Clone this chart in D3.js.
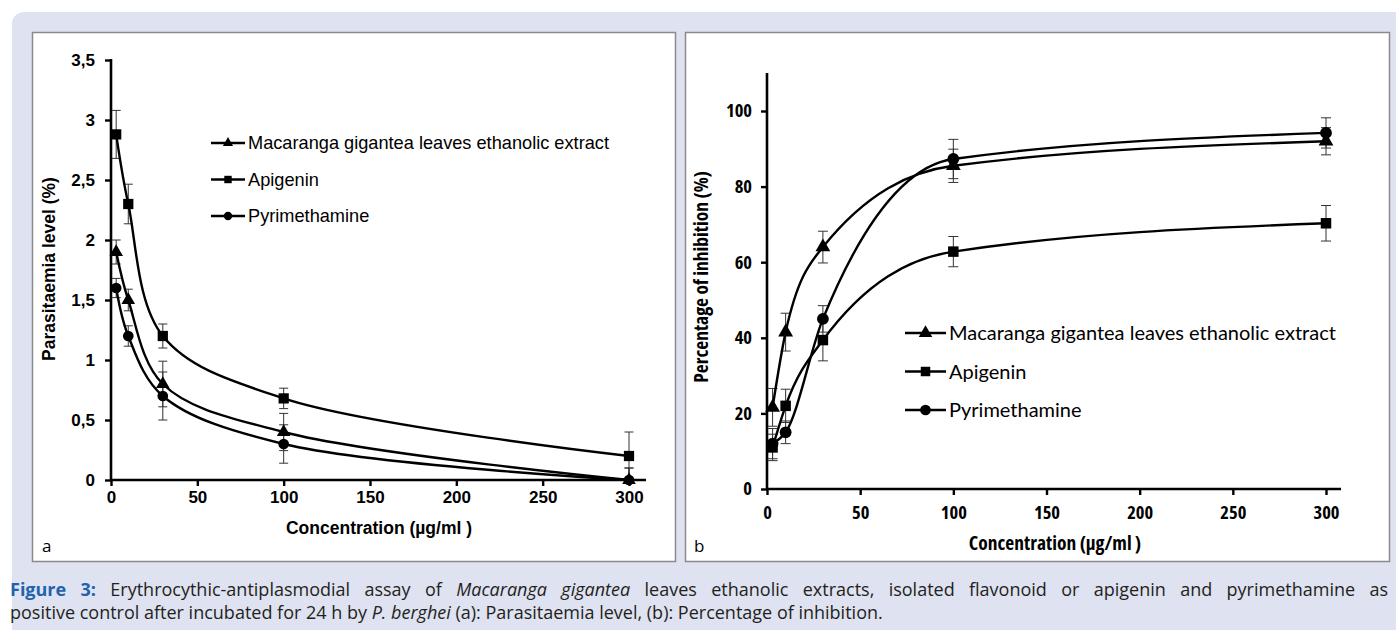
<!DOCTYPE html>
<html>
<head>
<meta charset="utf-8">
<script src="https://cdn.jsdelivr.net/npm/d3@7/dist/d3.min.js"></script>
<style>
  html, body { margin: 0; padding: 0; background: #ffffff; }
  svg { display: block; }
</style>
</head>
<body>
<svg id="fig" width="1396" height="630"></svg>
<script>
// Concentrations tested (µg/ml)
const concentrations = [3, 10, 30, 100, 300];
const seriesNames = ["Macaranga gigantea leaves ethanolic extract", "Apigenin", "Pyrimethamine"];
const seriesSymbols = ["triangle", "square", "circle"];

// (a) Parasitaemia level (%)
const parasMacaranga = [1.9, 1.5, 0.8, 0.4, 0.0];
const parasApigenin = [2.88, 2.3, 1.2, 0.68, 0.2];
const parasPyrimethamine = [1.6, 1.2, 0.7, 0.3, 0.0];
const parasErrMacaranga = [0.1, 0.09, 0.19, 0.155, 0.1];
const parasErrApigenin = [0.2, 0.165, 0.1, 0.085, 0.2];
const parasErrPyrimethamine = [0.08, 0.085, 0.2, 0.16, 0.1];

// (b) Percentage of inhibition (%)
const inhibMacaranga = [21.6, 41.5, 64, 85.5, 92];
const inhibApigenin = [11, 22, 39.4, 62.8, 70.3];
const inhibPyrimethamine = [12, 15, 45, 87.3, 94.2];
const inhibErrMacaranga = [5, 5, 4.2, 4.4, 3.6];
const inhibErrApigenin = [3.5, 4.4, 5.5, 4, 4.7];
const inhibErrPyrimethamine = [4, 3, 3.5, 5.2, 4];

// Axis ticks
const xTicks = [0, 50, 100, 150, 200, 250, 300];
const yTicksA = [0, 0.5, 1, 1.5, 2, 2.5, 3, 3.5];
const yTicksB = [0, 20, 40, 60, 80, 100];

const captionLine1 = [
  {t: "Figure 3:", b: true},
  {t: " Erythrocythic-antiplasmodial assay of "},
  {t: "Macaranga gigantea", i: true},
  {t: " leaves ethanolic extracts, isolated flavonoid or apigenin and pyrimethamine as"}
];
const captionLine2 = [
  {t: "positive control after incubated for 24 h by "},
  {t: "P. berghei", i: true},
  {t: " (a): Parasitaemia level, (b): Percentage of inhibition."}
];

const svg = d3.select("#fig");

// page background
svg.append("rect").attr("x", 0).attr("y", 0).attr("width", 1396).attr("height", 630).attr("fill", "#ffffff");
svg.append("rect").attr("x", 12).attr("y", 12).attr("width", 1400).attr("height", 640)
  .attr("rx", 12).attr("fill", "#dfe2f0");

// panel frames
function frame(x, y, w, h) {
  svg.append("rect").attr("x", x).attr("y", y).attr("width", w).attr("height", h)
    .attr("fill", "#ffffff").attr("stroke", "#8a8a8a").attr("stroke-width", 1.5);
}
frame(32.5, 32.5, 643, 529);
frame(685.5, 32.5, 704, 529);

const symbolType = {triangle: d3.symbolTriangle, square: d3.symbolSquare, circle: d3.symbolCircle};

function styleText(sel, font) {
  sel.style("font-family", font.family).style("font-weight", font.weight || "normal")
    .style("font-stretch", font.stretch || "normal").style("font-size", font.size + "px");
}

function drawPanel(cfg) {
  const g = svg.append("g");
  const x = d3.scaleLinear().domain([0, 300]).range(cfg.xRange);
  const y = d3.scaleLinear().domain(cfg.yDomain).range(cfg.yRange);

  // y axis
  const yAxis = g.append("g").attr("transform", `translate(${cfg.xRange[0]},0)`)
    .call(d3.axisLeft(y).tickValues(cfg.yTicks).tickFormat(cfg.yFormat).tickSize(6).tickSizeOuter(0));
  yAxis.select(".domain").remove();
  yAxis.append("line").attr("x1", 0).attr("x2", 0)
    .attr("y1", y(0) + 1).attr("y2", cfg.yTop).attr("stroke", "#000").attr("stroke-width", 2.6);
  // x axis
  const xAxis = g.append("g").attr("transform", `translate(0,${cfg.yRange[0]})`)
    .call(d3.axisBottom(x).tickValues(xTicks).tickSize(6).tickSizeOuter(0));
  xAxis.select(".domain").remove();
  xAxis.append("line").attr("x1", cfg.xRange[0] - 1).attr("x2", cfg.xRight)
    .attr("y1", 0).attr("y2", 0).attr("stroke", "#000").attr("stroke-width", 2.6);

  [yAxis, xAxis].forEach(a => {
    a.selectAll(".tick line").attr("stroke", "#000").attr("stroke-width", 2.4);
    styleText(a.selectAll(".tick text").attr("fill", "#000"), cfg.tickFont);
  });
  yAxis.selectAll(".tick text").attr("x", cfg.yLabelDx);
  xAxis.selectAll(".tick text").attr("y", cfg.xLabelDy);

  // axis titles
  styleText(g.append("text")
    .attr("transform", `translate(${cfg.yTitlePos[0]},${cfg.yTitlePos[1]}) rotate(-90)`)
    .attr("text-anchor", "middle").text(cfg.yTitle), cfg.titleFont);
  styleText(g.append("text")
    .attr("x", cfg.xTitlePos[0]).attr("y", cfg.xTitlePos[1])
    .attr("text-anchor", "middle").text(cfg.xTitle), cfg.titleFont);

  // error bars
  const eg = g.append("g").attr("stroke", "#333").attr("stroke-width", 1);
  cfg.series.forEach(s => {
    concentrations.forEach((c, i) => {
      const cx = x(c);
      const lo = y(Math.max(cfg.yDomain[0], s.values[i] - s.errors[i]));
      const hi = y(s.values[i] + s.errors[i]);
      eg.append("line").attr("x1", cx).attr("x2", cx).attr("y1", lo).attr("y2", hi);
      eg.append("line").attr("x1", cx - cfg.cap).attr("x2", cx + cfg.cap).attr("y1", hi).attr("y2", hi);
      if (s.values[i] - s.errors[i] > cfg.yDomain[0])
        eg.append("line").attr("x1", cx - cfg.cap).attr("x2", cx + cfg.cap).attr("y1", lo).attr("y2", lo);
    });
  });

  // smoothed lines
  const line = d3.line().x(d => x(d[0])).y(d => y(d[1])).curve(cfg.curve);
  cfg.series.forEach(s => {
    g.append("path").datum(concentrations.map((c, i) => [c, s.values[i]]))
      .attr("d", line).attr("fill", "none").attr("stroke", "#000").attr("stroke-width", 2.4);
  });

  // markers
  cfg.series.forEach((s, k) => {
    const sym = d3.symbol().type(symbolType[seriesSymbols[k]]).size(cfg.markerSize[k]);
    concentrations.forEach((c, i) => {
      g.append("path").attr("d", sym())
        .attr("transform", `translate(${x(c)},${y(s.values[i])})`).attr("fill", "#000");
    });
  });

  // legend
  const lg = g.append("g");
  seriesNames.forEach((name, k) => {
    const ly = cfg.legend.y0 + k * cfg.legend.dy;
    lg.append("line").attr("x1", cfg.legend.x0).attr("x2", cfg.legend.x1)
      .attr("y1", ly).attr("y2", ly).attr("stroke", "#000").attr("stroke-width", 2.4);
    const sym = d3.symbol().type(symbolType[seriesSymbols[k]]).size(cfg.legend.markerSize[k]);
    lg.append("path").attr("d", sym())
      .attr("transform", `translate(${(cfg.legend.x0 + cfg.legend.x1) / 2},${ly})`).attr("fill", "#000");
    styleText(lg.append("text").attr("x", cfg.legend.x1 + 3).attr("y", ly).attr("dy", "0.35em")
      .attr("fill", "#000").text(name), cfg.legend.font);
  });

  // panel letter
  g.append("text").attr("x", cfg.letterPos[0]).attr("y", cfg.letterPos[1])
    .style("font-family", "'Open Sans', sans-serif").style("font-size", "17px").text(cfg.letter);
}

const arialBold = {family: "'Liberation Sans', Arial, sans-serif", weight: "bold"};
const narrowBold = {family: "'Open Sans', sans-serif", weight: "bold", stretch: "condensed"};

drawPanel({
  xRange: [111, 629], xRight: 646,
  yDomain: [0, 3.5], yRange: [480, 60], yTop: 59,
  yTicks: yTicksA, yFormat: d => String(d).replace(".", ","),
  tickFont: {...arialBold, size: 17}, xLabelDy: 11, yLabelDx: -16,
  titleFont: {...arialBold, size: 17.5},
  yTitle: "Parasitaemia level (%)", yTitlePos: [55, 269],
  xTitle: "Concentration (µg/ml )", xTitlePos: [379, 534],
  curve: d3.curveCatmullRom.alpha(0.5),
  cap: 4.5,
  markerSize: [80, 105, 90],
  series: [
    {values: parasMacaranga, errors: parasErrMacaranga},
    {values: parasApigenin, errors: parasErrApigenin},
    {values: parasPyrimethamine, errors: parasErrPyrimethamine}
  ],
  legend: {x0: 211, x1: 245, y0: 143, dy: 36.5,
           font: {family: "'Liberation Sans', Arial, sans-serif", size: 18.2},
           markerSize: [45, 55, 55]},
  letter: "a", letterPos: [42, 552]
});

drawPanel({
  xRange: [767, 1326], xRight: 1341,
  yDomain: [0, 110], yRange: [489, 73.2], yTop: 73,
  yTicks: yTicksB, yFormat: d => String(d),
  tickFont: {...narrowBold, size: 18.5}, xLabelDy: 17, yLabelDx: -15,
  titleFont: {...narrowBold, size: 19.5},
  yTitle: "Percentage of inhibition (%)", yTitlePos: [708, 277],
  xTitle: "Concentration (µg/ml )", xTitlePos: [1055, 550],
  curve: d3.curveMonotoneX,
  cap: 5,
  markerSize: [95, 110, 110],
  series: [
    {values: inhibMacaranga, errors: inhibErrMacaranga},
    {values: inhibApigenin, errors: inhibErrApigenin},
    {values: inhibPyrimethamine, errors: inhibErrPyrimethamine}
  ],
  legend: {x0: 905, x1: 946, y0: 333, dy: 38.5,
           font: {family: "Lato, 'Open Sans', sans-serif", size: 20},
           markerSize: [80, 90, 90]},
  letter: "b", letterPos: [694, 552]
});

// caption: size chosen so the second line ends near x = 885, first line justified
const captionFont = "'Open Sans', 'Noto Sans', sans-serif";
function captionLine(parts, yBase) {
  const t = svg.append("text").attr("x", 10).attr("y", yBase)
    .style("font-family", captionFont)
    .style("font-size", "17px").attr("fill", "#231f20");
  parts.forEach(p => {
    const ts = t.append("tspan").text(p.t);
    if (p.b) ts.style("font-weight", "bold").attr("fill", "#1f63ad");
    if (p.i) ts.style("font-style", "italic");
  });
  return t;
}
const cap1 = captionLine(captionLine1, 596);
const cap2 = captionLine(captionLine2, 619);
const capSize = Math.max(15, Math.min(18, 17 * (885 - 10) / cap2.node().getComputedTextLength()));
cap1.style("font-size", capSize + "px");
cap2.style("font-size", capSize + "px");
{
  const full = captionLine1.map(p => p.t).join("");
  const w = cap1.node().getComputedTextLength();
  const gaps = full.split(" ").length - 1;
  const extra = 1388 - 10 - w;
  if (extra > 0) cap1.style("word-spacing", (extra / gaps) + "px");
}
</script>
</body>
</html>
